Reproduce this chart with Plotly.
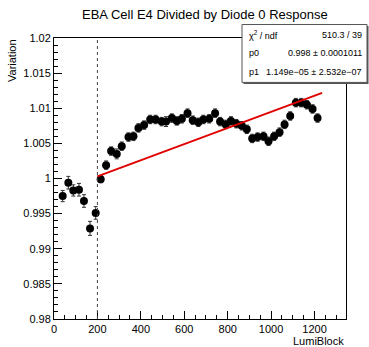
import plotly.graph_objects as go

# ---- data ----
lb_pre = [40, 66, 89, 115, 138, 166, 192]
var_pre = [0.9975, 0.9994, 0.9983, 0.9984, 0.9968, 0.9929, 0.9951]
err_pre = [0.0008, 0.0009, 0.0008, 0.0009, 0.0009, 0.0010, 0.0009]

lb_fit = [215, 240, 263, 289, 312, 343, 366, 389, 415, 443, 468, 496, 516, 543,
          566, 589, 615, 639, 665, 688, 715, 742, 765, 791, 815, 840, 865, 888,
          913, 938, 965, 988, 1014, 1039, 1062, 1088, 1114, 1139, 1165, 1191, 1214]
var_fit = [0.9999, 1.0019, 1.0039, 1.0035, 1.0046, 1.0059, 1.0060, 1.0072, 1.0076,
           1.0084, 1.0084, 1.0081, 1.0081, 1.0086, 1.0082, 1.0085, 1.0093, 1.0083,
           1.0080, 1.0084, 1.0085, 1.0093, 1.0081, 1.0077, 1.0082, 1.0078, 1.0075,
           1.0070, 1.0057, 1.0059, 1.0060, 1.0053, 1.0060, 1.0066, 1.0077, 1.0089,
           1.0108, 1.0108, 1.0105, 1.0099, 1.0086]
err_fit = [0.0005, 0.0006, 0.0006, 0.0007, 0.0006, 0.0006, 0.0006, 0.0006, 0.0006,
           0.0006, 0.0006, 0.0006, 0.0007, 0.0006, 0.0006, 0.0006, 0.0006, 0.0006,
           0.0006, 0.0006, 0.0006, 0.0006, 0.0006, 0.0006, 0.0006, 0.0006, 0.0006,
           0.0006, 0.0006, 0.0006, 0.0006, 0.0006, 0.0006, 0.0006, 0.0006, 0.0006,
           0.0006, 0.0006, 0.0006, 0.0006, 0.0006]

p0 = 0.998
p1 = 1.149e-05
fit_range = [200, 1235]
cut_lb = 200

stats_labels = ["\u03c7<sup>2</sup> / ndf", "p0", "p1"]
stats_values = ["510.3 / 39", "0.998 \u00b1 0.0001011", "1.149e\u221205 \u00b1 2.532e\u221207"]

title = "EBA Cell E4 Divided by Diode 0 Response"
x_title = "LumiBlock"
y_title = "Variation"

# ---- layout geometry ----
W, H = 369, 347
L, R, T, B = 54, 346, 37.5, 319


def px(x):
    return (x - L) / (R - L)


def py(y):
    return (B - y) / (B - T)


fig = go.Figure()

lbs = lb_pre + lb_fit
vals = var_pre + var_fit
errs = err_pre + err_fit

fig.add_trace(go.Scatter(
    x=lbs, y=vals, mode="markers",
    marker=dict(color="black", size=8),
    error_y=dict(type="data", array=errs, color="#333333", thickness=1, width=2),
    showlegend=False, hoverinfo="x+y"))

fx = fit_range
fy = [p0 + p1 * v for v in fx]
fig.add_trace(go.Scatter(x=fx, y=fy, mode="lines",
                         line=dict(color="#e00000", width=2), showlegend=False))

# dashed cut line
fig.add_shape(type="line", x0=cut_lb, x1=cut_lb, y0=0, y1=1, xref="x", yref="paper",
              line=dict(color="#444444", width=1, dash="dot"))

# stats box (shadow + box)
bx0, bx1, by0, by1 = 242, 367, 24, 82
fig.add_shape(type="rect", xref="paper", yref="paper",
              x0=px(bx0 + 1.5), x1=px(bx1 + 1.5), y0=py(by1 + 1.5), y1=py(by0 + 1.5),
              fillcolor="#555555", line=dict(width=0), layer="above")
fig.add_shape(type="rect", xref="paper", yref="paper",
              x0=px(bx0), x1=px(bx1), y0=py(by1), y1=py(by0),
              fillcolor="white", line=dict(color="#555555", width=1), layer="above")

row_y = [34, 53, 72]
for lab, val, ry in zip(stats_labels, stats_values, row_y):
    fig.add_annotation(x=px(247), y=py(ry), xref="paper", yref="paper", text=lab,
                       showarrow=False, xanchor="left", yanchor="middle",
                       font=dict(size=9, color="black", family="Liberation Sans"))
    fig.add_annotation(x=px(364), y=py(ry), xref="paper", yref="paper", text=val,
                       showarrow=False, xanchor="right", yanchor="middle",
                       font=dict(size=9, color="black", family="Liberation Sans"))

# titles
fig.add_annotation(x=px(205), y=py(14), xref="paper", yref="paper", text=title,
                   showarrow=False, xanchor="center", yanchor="middle",
                   font=dict(size=13, color="black", family="Liberation Sans"))
fig.add_annotation(x=px(346), y=py(341), xref="paper", yref="paper", text=x_title,
                   showarrow=False, xanchor="right", yanchor="middle",
                   font=dict(size=11, color="black", family="Liberation Sans"))
fig.add_annotation(x=px(12), y=py(37), xref="paper", yref="paper", text=y_title,
                   showarrow=False, textangle=-90, xanchor="center", yanchor="top",
                   font=dict(size=11, color="black", family="Liberation Sans"))

fig.update_xaxes(range=[0, 1345], showgrid=False, zeroline=False,
                 showline=True, mirror=True, linecolor="black", linewidth=1,
                 ticks="inside", ticklen=8, tickcolor="black", dtick=200, tick0=0,
                 tickfont=dict(size=11, color="black", family="Liberation Sans"),
                 minor=dict(ticks="inside", ticklen=4, dtick=50, tick0=0, tickcolor="black"))
fig.update_yaxes(range=[0.98, 1.02], showgrid=False, zeroline=False,
                 showline=True, mirror=True, linecolor="black", linewidth=1,
                 ticks="inside", ticklen=8, tickcolor="black", dtick=0.005, tick0=0.98,
                 tickformat="~g",
                 tickfont=dict(size=11, color="black", family="Liberation Sans"),
                 minor=dict(ticks="inside", ticklen=4, dtick=0.001, tick0=0.98, tickcolor="black"))

fig.update_layout(width=W, height=H, autosize=False,
                  margin=dict(l=L, r=W - R, t=T, b=H - B, pad=0),
                  paper_bgcolor="white", plot_bgcolor="white",
                  font=dict(family="Liberation Sans"))

fig.write_html("out.html")
